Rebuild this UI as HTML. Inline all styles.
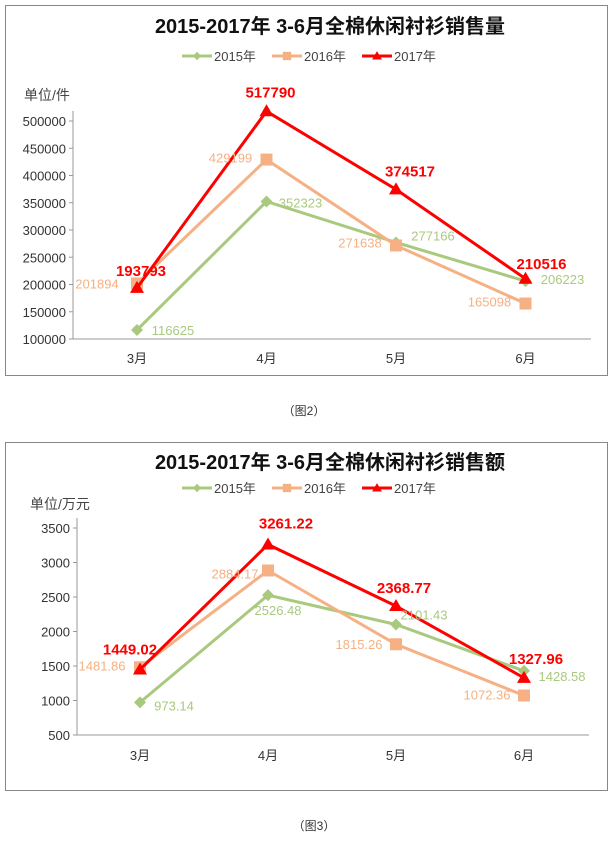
<!DOCTYPE html>
<html><head><meta charset="utf-8">
<style>
body{margin:0;background:#fff;width:608px;height:840px;overflow:hidden;font-family:"Liberation Sans","Noto Sans CJK SC",sans-serif;}
svg text{font-family:"Liberation Sans","Noto Sans CJK SC",sans-serif;}
</style></head>
<body>
<svg id="s" width="608" height="840">
<rect x="5.5" y="5.5" width="602" height="370" fill="#fff" stroke="#888"/>
<rect x="5.5" y="442.5" width="602" height="348" fill="#fff" stroke="#888"/>
<text x="304" y="415" font-size="12" text-anchor="middle" fill="#333">（图2）</text>
<text x="314" y="830" font-size="12" text-anchor="middle" fill="#333">（图3）</text>
</svg>
<script>
const categories=["3月","4月","5月","6月"];
const seriesNames=["2015年","2016年","2017年"];
const qty2015=[116625,352323,277166,206223];
const qty2016=[201894,429199,271638,165098];
const qty2017=[193793,517790,374517,210516];
const qtyTicks=[100000,150000,200000,250000,300000,350000,400000,450000,500000];
const amt2015=[973.14,2526.48,2101.43,1428.58];
const amt2016=[1481.86,2884.17,1815.26,1072.36];
const amt2017=[1449.02,3261.22,2368.77,1327.96];
const amtTicks=[500,1000,1500,2000,2500,3000,3500];

const NS="http://www.w3.org/2000/svg";
const svg=document.getElementById('s');
const colors=["#a9c97f","#f5b183","#ff0000"];
function el(t,a,parent){const e=document.createElementNS(NS,t);for(const k in a)e.setAttribute(k,a[k]);(parent||svg).appendChild(e);return e;}
function marker(g,i,x,y){
  if(i===0) return el('polygon',{points:`${x},${y-6} ${x+6},${y} ${x},${y+6} ${x-6},${y}`,fill:colors[0]},g);
  if(i===1) return el('rect',{x:x-6,y:y-6,width:12,height:12,fill:colors[1]},g);
  return el('polygon',{points:`${x},${y-7} ${x+7},${y+5} ${x-7},${y+5}`,fill:colors[2]},g);
}
function chart(o){
  const g=el('g',{});
  
  
  const yv=v=>o.y0+(v-o.min)/(o.max-o.min)*(o.y1-o.y0);
  const xs=i=>o.cx0+i*o.step;
  let t=el('text',{x:330,y:o.titleY,'font-size':20,'font-weight':'bold','text-anchor':'middle',fill:'#111'},g);
  t.textContent=o.title;
  
  
  // legend
  const lx=[182,272,362];
  seriesNames.forEach((n,i)=>{
    const lg=el('g',{},g);
    
    
    el('line',{x1:lx[i],x2:lx[i]+30,y1:o.legY,y2:o.legY,stroke:colors[i],'stroke-width':3},lg);
    const m=marker(lg,i,lx[i]+15,o.legY);m.setAttribute('transform',`translate(${lx[i]+15},${o.legY}) scale(0.7) translate(${-(lx[i]+15)},${-o.legY})`);
    const tx=el('text',{x:lx[i]+32,y:o.legY+5,'font-size':13,fill:'#444'},lg);tx.textContent=n;
  });
  t=el('text',{x:o.unitX,y:o.unitY,'font-size':14,fill:'#444'},g);t.textContent=o.unit;
  
  
  // axes
  el('line',{x1:o.ax,x2:o.ax,y1:o.y1-10,y2:o.y0,stroke:'#999'},g);
  el('line',{x1:o.ax,x2:o.axR,y1:o.y0,y2:o.y0,stroke:'#999'},g);
  o.ticks.forEach(v=>{
    el('line',{x1:o.ax-4,x2:o.ax,y1:yv(v),y2:yv(v),stroke:'#999'},g);
    const tt=el('text',{x:o.ax-7,y:yv(v)+5,'font-size':13,'text-anchor':'end',fill:'#333'},g);tt.textContent=v;
    
    
  });
  categories.forEach((c,i)=>{
    const tt=el('text',{x:xs(i),y:o.catY,'font-size':13,'text-anchor':'middle',fill:'#333'},g);tt.textContent=c;
    
    
  });
  o.data.forEach((d,si)=>{
    const sg=el('g',{},g);
    
    
    el('polyline',{points:d.map((v,i)=>xs(i)+','+yv(v)).join(' '),fill:'none',stroke:colors[si],'stroke-width':3},sg);
    d.forEach((v,i)=>{
      const m=marker(sg,si,xs(i),yv(v));
      
      
    });
  });
  o.data.forEach((d,si)=>{
    d.forEach((v,i)=>{
      const off=o.off[si][i];
      const lt=el('text',{x:xs(i)+off[0],y:yv(v)+off[1],'font-size':si===2?15:13,'font-weight':si===2?'bold':'normal','text-anchor':'middle',fill:si===2?'#ff0000':colors[si]},g);
      lt.textContent=v;
      
      
    });
  });
}
chart({name:'sales-volume-chart',title:'2015-2017年  3-6月全棉休闲衬衫销售量',titleY:33,legY:56,unit:'单位/件',unitX:24,unitY:100,
  ax:73,axR:591,y0:339,y1:121,min:100000,max:500000,ticks:qtyTicks,cx0:137,step:129.5,catY:363,
  data:[qty2015,qty2016,qty2017],
  off:[[[36,5],[34,6],[37,-2],[37,3]],[[-40,5],[-36,3],[-36,2],[-36,3]],[[4,-12],[4,-14],[14,-13],[16,-10]]]});
chart({name:'sales-amount-chart',title:'2015-2017年  3-6月全棉休闲衬衫销售额',titleY:469,legY:488,unit:'单位/万元',unitX:30,unitY:509,
  ax:77,axR:589,y0:735,y1:528,min:500,max:3500,ticks:amtTicks,cx0:140,step:128,catY:760,
  data:[amt2015,amt2016,amt2017],
  off:[[[34,8],[10,20],[28,-5],[38,10]],[[-38,3],[-33,8],[-37,5],[-37,4]],[[-10,-15],[18,-16],[8,-13],[12,-14]]]});
</script>
</body></html>
